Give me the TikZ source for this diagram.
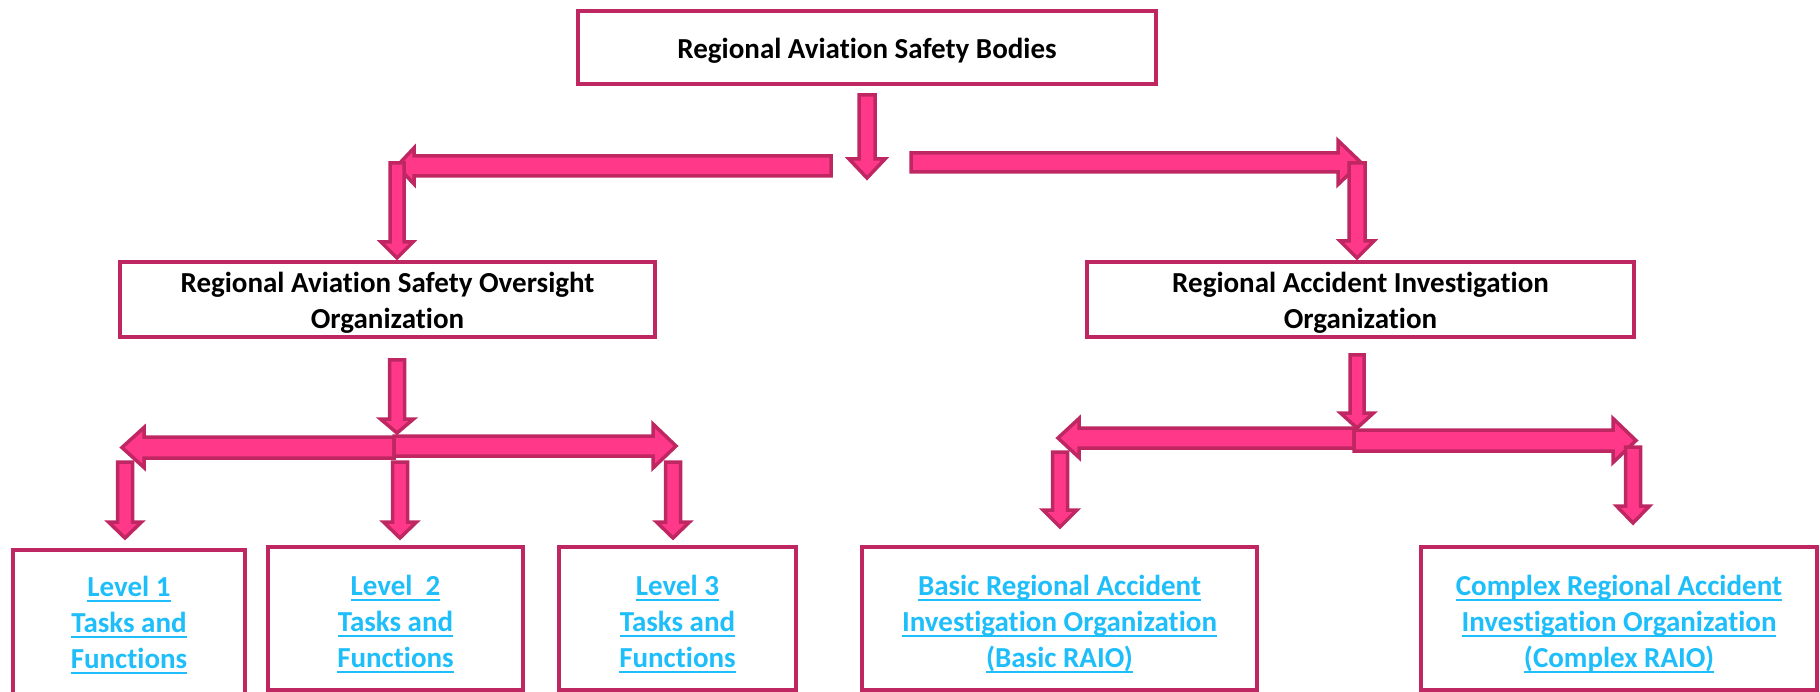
\documentclass[tikz,border=0pt]{standalone}
\usepackage{fontspec}
\setmainfont{Carlito}[Ligatures=NoCommon]
\usetikzlibrary{calc}
\definecolor{framec}{RGB}{191,39,98}
\definecolor{pinkfill}{RGB}{255,56,137}
\definecolor{linkblue}{RGB}{30,190,250}
\newcommand{\ulbox}[1]{\sbox0{#1}\rlap{\usebox0}\rule[-5.5pt]{\wd0}{2.8pt}}
\newcommand{\blockarrow}[5]{%
  \coordinate (ba-h) at ($(#2)!#5!(#1)$);
  \filldraw[barrow] ($(#1)!#3!90:(#2)$) -- ($(ba-h)!#3!90:(#2)$) -- ($(ba-h)!#4!90:(#2)$) -- (#2) -- ($(ba-h)!#4!-90:(#2)$) -- ($(ba-h)!#3!-90:(#2)$) -- ($(#1)!#3!-90:(#2)$) -- cycle;}
\tikzset{
  barrow/.style={fill=pinkfill, draw=framec, line width=3.5pt, line join=miter},
  box/.style={draw=framec, line width=4.5pt, fill=white, rectangle, inner sep=0pt},
  txt/.style={inner sep=0pt, align=center, font=\bfseries\fontsize{29}{36}\selectfont},
  linktxt/.style={txt, text=linkblue}
}
\begin{document}
\begin{tikzpicture}[x=1pt,y=-1pt]
\useasboundingbox (0,0) rectangle (1820,692);
\clip (0,0) rectangle (1820,692);
% boxes
\node[box, minimum width=578pt, minimum height=73pt] (top) at (867,47.5) {};
\node[txt] (topt) at ($(top.center)+(0,3.5)$) {Regional Aviation Safety Bodies};
\node[box, minimum width=535pt, minimum height=75pt] (raso) at (387.5,299.5) {};
\node[txt] (rasot) at ($(raso.center)+(0,3)$) {Regional Aviation Safety Oversight\\Organization};
\node[box, minimum width=547pt, minimum height=75pt] (raio) at (1360.5,299.5) {};
\node[txt] (raiot) at ($(raio.center)+(0,3)$) {Regional Accident Investigation\\Organization};
\node[box, minimum width=232pt, minimum height=145pt] (l1) at (129,622.5) {};
\node[linktxt] (l1t) at ($(l1.center)+(0,3)$) {\ulbox{Level 1}\\\ulbox{Tasks and}\\\ulbox{Functions}};
\node[box, minimum width=255pt, minimum height=143pt] (l2) at (395.5,618.5) {};
\node[linktxt] (l2t) at ($(l2.center)+(0,6)$) {\ulbox{Level~~2}\\\ulbox{Tasks and}\\\ulbox{Functions}};
\node[box, minimum width=237pt, minimum height=143pt] (l3) at (677.5,618.5) {};
\node[linktxt] (l3t) at ($(l3.center)+(0,6)$) {\ulbox{Level 3}\\\ulbox{Tasks and}\\\ulbox{Functions}};
\node[box, minimum width=395pt, minimum height=143pt] (basic) at (1059.5,618.5) {};
\node[linktxt] (basict) at ($(basic.center)+(0,6)$) {\ulbox{Basic Regional Accident}\\\ulbox{Investigation Organization}\\\ulbox{(Basic RAIO)}};
\node[box, minimum width=396pt, minimum height=143pt] (complex) at (1619,618.5) {};
\node[linktxt] (complext) at ($(complex.center)+(0,6)$) {\ulbox{Complex Regional Accident}\\\ulbox{Investigation Organization}\\\ulbox{(Complex RAIO)}};
% arrow end points
\coordinate (a0s) at (867,95);   \coordinate (a0e) at (867,178);
\coordinate (a1s) at (831,166);  \coordinate (a1e) at (397,166);
\coordinate (a2s) at (911,162.5);\coordinate (a2e) at (1361,162.5);
\coordinate (a3s) at (397,163);  \coordinate (a3e) at (397,258);
\coordinate (a4s) at (1357,163); \coordinate (a4e) at (1357,258);
\coordinate (a5s) at (397,360);  \coordinate (a5e) at (397,433);
\coordinate (a6s) at (394,447.5);\coordinate (a6e) at (122,447.5);
\coordinate (a7s) at (394,446);  \coordinate (a7e) at (676,446);
\coordinate (a8s) at (125,462);  \coordinate (a8e) at (125,538);
\coordinate (a9s) at (400,462);  \coordinate (a9e) at (400,538);
\coordinate (a10s) at (673,462); \coordinate (a10e) at (673,538);
\coordinate (a11s) at (1357,355);\coordinate (a11e) at (1357,428);
\coordinate (a12s) at (1354,438);\coordinate (a12e) at (1058,438);
\coordinate (a13s) at (1354,440.5);\coordinate (a13e) at (1636,440.5);
\coordinate (a14s) at (1060,452);\coordinate (a14e) at (1060,527);
\coordinate (a15s) at (1633,447);\coordinate (a15e) at (1633,523);
% arrows
\blockarrow{a0s}{a0e}{8pt}{18pt}{19pt}
\blockarrow{a1s}{a1e}{10pt}{18pt}{17pt}
\blockarrow{a2s}{a2e}{9.5pt}{22pt}{23pt}
\blockarrow{a3s}{a3e}{7pt}{16pt}{16pt}
\blockarrow{a4s}{a4e}{8pt}{17pt}{17pt}
\blockarrow{a6s}{a6e}{10.5pt}{20pt}{22pt}
\blockarrow{a7s}{a7e}{10pt}{22pt}{23pt}
\blockarrow{a5s}{a5e}{7.5pt}{16.5pt}{14pt}
\blockarrow{a8s}{a8e}{7.5pt}{16.5pt}{16pt}
\blockarrow{a9s}{a9e}{7.5pt}{16.5pt}{16pt}
\blockarrow{a10s}{a10e}{7.5pt}{16.5pt}{16pt}
\blockarrow{a12s}{a12e}{10pt}{19.5pt}{21pt}
\blockarrow{a13s}{a13e}{10.5pt}{22pt}{23pt}
\blockarrow{a11s}{a11e}{7pt}{16.5pt}{15pt}
\blockarrow{a14s}{a14e}{7.5pt}{17pt}{17pt}
\blockarrow{a15s}{a15e}{7.5pt}{16.5pt}{17pt}
\end{tikzpicture}
\end{document}
